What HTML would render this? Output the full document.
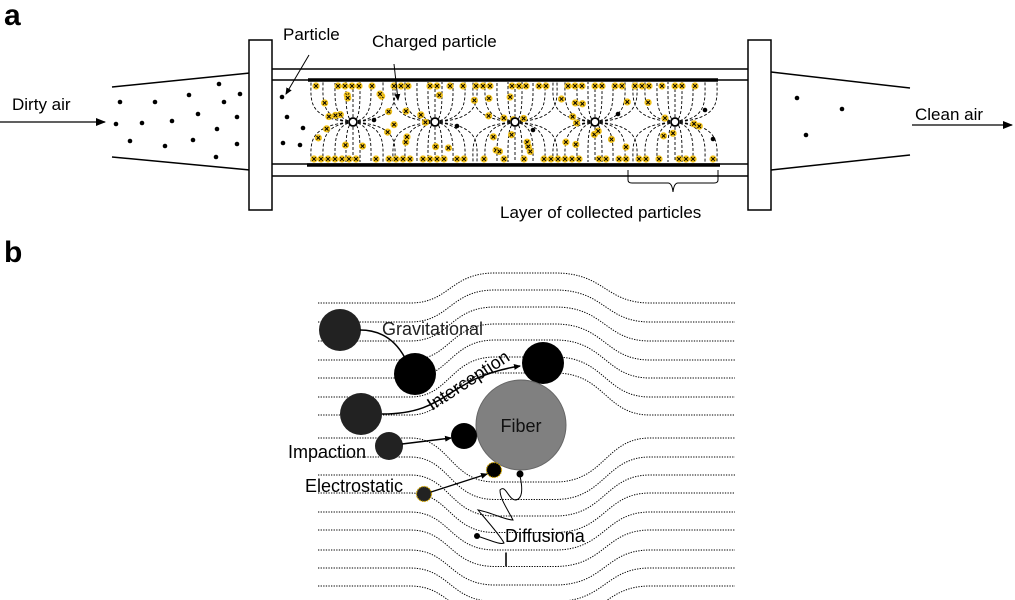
<!DOCTYPE html>
<html><head><meta charset="utf-8"><style>
html,body{margin:0;padding:0;background:#fff;}
svg{display:block;font-family:"Liberation Sans",Arial,sans-serif;}
</style></head><body>
<svg id="s" width="1015" height="600" viewBox="0 0 1015 600" xmlns="http://www.w3.org/2000/svg">
<defs>
<marker id="ar" markerWidth="10" markerHeight="8" refX="9" refY="4" orient="auto" markerUnits="userSpaceOnUse"><path d="M0,0 L10,4 L0,8 z" fill="#000"/></marker>
<marker id="ars" markerWidth="7" markerHeight="6" refX="6" refY="3" orient="auto" markerUnits="userSpaceOnUse"><path d="M0,0 L7,3 L0,6 z" fill="#000"/></marker>
</defs>
<g id="fieldA"></g>
<g id="streamB"></g>
<text x="4" y="25" font-size="30" font-weight="bold">a</text>
<text x="4" y="262" font-size="30" font-weight="bold">b</text>
<line x1="112" y1="87" x2="250" y2="73" stroke="#000" stroke-width="1.5"/>
<line x1="112" y1="157" x2="250" y2="170" stroke="#000" stroke-width="1.5"/>
<line x1="0" y1="122" x2="105" y2="122" stroke="#000" stroke-width="1.3" marker-end="url(#ar)"/>
<text x="12" y="110" font-size="17">Dirty air</text>
<line x1="771" y1="72" x2="910" y2="88" stroke="#000" stroke-width="1.5"/>
<line x1="771" y1="170" x2="910" y2="155" stroke="#000" stroke-width="1.5"/>
<line x1="912" y1="125" x2="1012" y2="125" stroke="#000" stroke-width="1.3" marker-end="url(#ar)"/>
<text x="915" y="120" font-size="17">Clean air</text>
<line x1="272" y1="69" x2="748" y2="69" stroke="#000" stroke-width="1.5"/>
<line x1="272" y1="80" x2="748" y2="80" stroke="#000" stroke-width="1.5"/>
<line x1="272" y1="164" x2="748" y2="164" stroke="#000" stroke-width="1.5"/>
<line x1="272" y1="176" x2="748" y2="176" stroke="#000" stroke-width="1.5"/>
<line x1="308" y1="80" x2="718" y2="80" stroke="#000" stroke-width="3.5"/>
<line x1="307" y1="165" x2="720" y2="165" stroke="#000" stroke-width="3.5"/>
<rect x="249" y="40" width="23" height="170" fill="#fff" stroke="#000" stroke-width="1.5"/>
<rect x="748" y="40" width="23" height="170" fill="#fff" stroke="#000" stroke-width="1.5"/>
<g id="dotsA"></g>
<g id="yel"></g>
<text x="283" y="40" font-size="17">Particle</text>
<line x1="309" y1="55" x2="286" y2="94" stroke="#000" stroke-width="1" marker-end="url(#ars)"/>
<text x="372" y="47" font-size="17">Charged particle</text>
<line x1="394" y1="64" x2="398" y2="100" stroke="#000" stroke-width="1" marker-end="url(#ars)"/>
<path d="M628,170 L628,180 Q628,183 632,183 L668,183 Q672,183 673,192 Q674,183 678,183 L714,183 Q718,183 718,180 L718,170" fill="none" stroke="#000" stroke-width="1"/>
<text x="500" y="218" font-size="17">Layer of collected particles</text>

<circle cx="340" cy="330" r="21" fill="#222"/>
<path d="M360,330 C385,330 398,345 405,358" fill="none" stroke="#000" stroke-width="1.5"/>
<circle cx="415" cy="374" r="21" fill="#000"/>
<text x="382" y="335" font-size="18" fill="#222">Gravitational</text>
<circle cx="361" cy="414" r="21" fill="#222"/>
<path d="M382,414 C450,414 445,378 520,366" fill="none" stroke="#000" stroke-width="1.5" marker-end="url(#ars)"/>
<circle cx="543" cy="363" r="21" fill="#000"/>
<text x="0" y="0" font-size="18" transform="translate(432,411) rotate(-33)">Interception</text>
<circle cx="521" cy="425" r="45" fill="#808080" stroke="#666" stroke-width="1"/>
<text x="521" y="432" font-size="18" text-anchor="middle" fill="#111">Fiber</text>
<circle cx="389" cy="446" r="14" fill="#222"/>
<line x1="402" y1="444" x2="451" y2="438" stroke="#000" stroke-width="1.5" marker-end="url(#ars)"/>
<circle cx="464" cy="436" r="13" fill="#000"/>
<text x="288" y="458" font-size="18">Impaction</text>
<circle cx="424" cy="494" r="7.5" fill="#222" stroke="#d4a800" stroke-width="1.2" stroke-dasharray="1.5,1"/>
<line x1="431" y1="492" x2="487" y2="474" stroke="#000" stroke-width="1.3" marker-end="url(#ars)"/>
<circle cx="494" cy="470" r="7.5" fill="#000" stroke="#d4a800" stroke-width="1.2" stroke-dasharray="1.5,1"/>
<text x="305" y="492" font-size="18">Electrostatic</text>
<circle cx="477" cy="536" r="3" fill="#000"/>
<circle cx="520" cy="474" r="3.5" fill="#000"/>
<path d="M477,536 C490,540 500,545 504,543 C500,535 482,515 478,510 C490,512 505,520 513,520 C505,505 500,498 500,490 C506,484 508,500 516,500 C524,498 522,485 520,476" fill="none" stroke="#000" stroke-width="1"/>
<text x="505" y="542" font-size="18">Diffusiona</text>
<text x="504" y="566" font-size="18">l</text>
</svg>
<script>
(function(){
var NS="http://www.w3.org/2000/svg";
function el(p,t,a){var e=document.createElementNS(NS,t);for(var k in a)e.setAttribute(k,a[k]);p.appendChild(e);return e;}
var seed=7;function rnd(){seed=(seed*9301+49297)%233280;return seed/233280;}
var fA=document.getElementById('fieldA');
var wires=[353,435,515,595,675];
wires.forEach(function(cx){
 [-42,-30,-18,-7,0,7,18,30,42].forEach(function(d){
  [[82,-1],[162,1]].forEach(function(p){
   var y=p[0],s=p[1];
   el(fA,'path',{d:'M'+cx+',122 C'+(cx+d*1.1)+','+(122+s*3)+' '+(cx+d)+','+(122+s*22)+' '+(cx+d)+','+y,fill:'none',stroke:'#000','stroke-width':'0.9','stroke-dasharray':'3,2'});
  });
 });
});
var dA=document.getElementById('dotsA');
var dots=[[120,102],[155,102],[189,95],[219,84],[224,102],[240,94],[116,124],[142,123],[172,121],[198,114],[217,129],[237,117],[130,141],[165,146],[193,140],[237,144],[216,157],[282,97],[287,117],[303,128],[300,145],[283,143],[374,120],[457,126],[533,130],[618,114],[705,110],[713,139],[797,98],[842,109],[806,135]];
dots.forEach(function(p){el(dA,'circle',{cx:p[0],cy:p[1],r:2.3,fill:'#000'});});
var Y=document.getElementById('yel');
function yp(x,y){el(Y,'circle',{cx:x,cy:y,r:3.6,fill:'#f2c21b'});
 el(Y,'path',{d:'M'+(x-1.8)+','+(y-1.8)+'L'+(x+1.8)+','+(y+1.8)+'M'+(x+1.8)+','+(y-1.8)+'L'+(x-1.8)+','+(y+1.8),stroke:'#000','stroke-width':'1'});}
for(var x=316;x<715;x+=rnd()<0.45?7:(rnd()<0.5?13:22)){yp(x,86);}
for(var x=314;x<718;x+=rnd()<0.5?7:(rnd()<0.5?13:20)){yp(x,159);}
for(var i=0;i<55;i++){yp(315+rnd()*395,94+rnd()*58);}
wires.forEach(function(cx){el(Y,'circle',{cx:cx,cy:122,r:4,fill:'#fff',stroke:'#000','stroke-width':'1.8'});});
var B=document.getElementById('streamB');
var ups=[303,322,341,360,378,397,415], downs=[438,457,475,493,512,530,550,568,586];
function line(y0,dy){
 var d='M318,'+y0+' L410,'+y0+' C450,'+y0+' 450,'+(y0+dy)+' 495,'+(y0+dy)+' L555,'+(y0+dy)+' C605,'+(y0+dy)+' 605,'+y0+' 650,'+y0+' L735,'+y0;
 el(B,'path',{d:d,fill:'none',stroke:'#000','stroke-width':'1','stroke-dasharray':'1.3,1.3'});
}
ups.forEach(function(y,i){line(y,-(30+i*2));});
downs.forEach(function(y,i){line(y,(44-i*1.5));});
})();
</script>
</body></html>
